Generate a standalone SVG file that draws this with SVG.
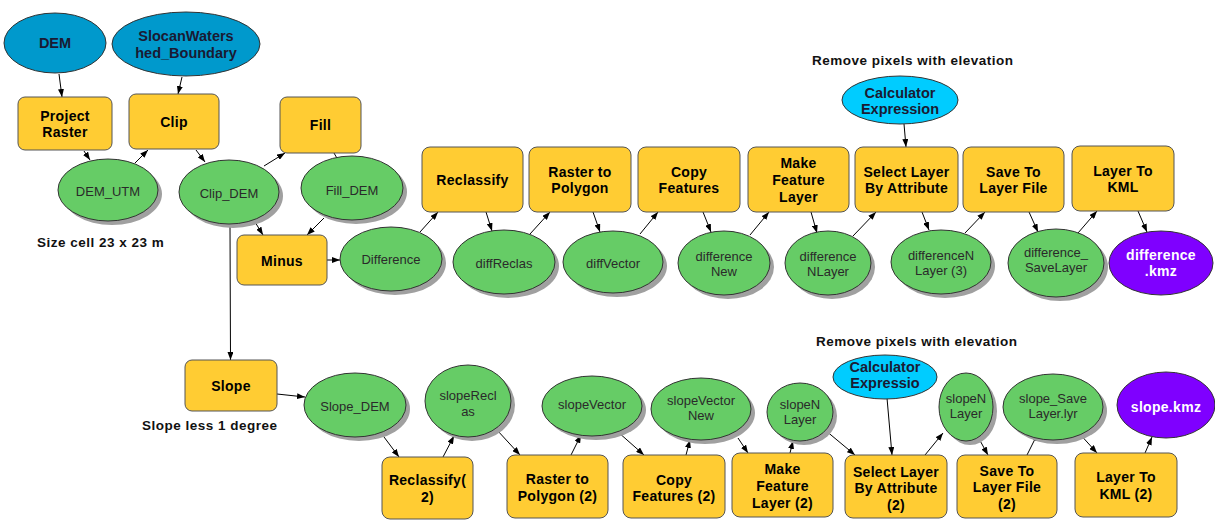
<svg xmlns="http://www.w3.org/2000/svg" width="1215" height="520" viewBox="0 0 1215 520">
<defs>
<marker id="ah" viewBox="0 0 8 6" refX="8" refY="3" markerWidth="8" markerHeight="6" markerUnits="userSpaceOnUse" orient="auto">
<path d="M0,0 L8,3 L0,6 z" fill="#000"/>
</marker>
<style>
.tool{fill:#ffcc33;stroke:#555;stroke-width:1}
.data{fill:#66cc66;stroke:#333;stroke-width:1}
.sh{fill:#a0a0a0}
.inp{fill:#0099cc;stroke:#333;stroke-width:1}
.calc{fill:#00ccff;stroke:#333;stroke-width:1}
.out{fill:#7f00ff;stroke:#333;stroke-width:1}
text{font-family:"Liberation Sans",Arial,sans-serif;text-anchor:middle;dominant-baseline:central}
.tt{font-size:14px;font-weight:bold;fill:#000;letter-spacing:0.3px}
.dt{font-size:13px;fill:#2a2a2a}
.it{font-size:14.5px;font-weight:bold;fill:#1a1a33}
.ot{font-size:14px;font-weight:bold;fill:#fff;letter-spacing:0.3px}
.note{font-size:13.5px;font-weight:bold;fill:#111;text-anchor:start;letter-spacing:0.5px}
.con line{stroke:#000;stroke-width:1;marker-end:url(#ah)}
</style>
</defs>
<rect width="1215" height="520" fill="#fff"/>

<g id="connectors" class="con">
<line x1="59" y1="74" x2="62" y2="97"/>
<line x1="182" y1="77" x2="178" y2="94"/>
<line x1="84" y1="151" x2="90" y2="160"/>
<line x1="135" y1="163" x2="148" y2="150"/>
<line x1="196" y1="150" x2="205" y2="162"/>
<line x1="264" y1="166" x2="285" y2="153"/>
<line x1="334" y1="153" x2="338" y2="160" style="marker-end:none"/>
<line x1="255" y1="222" x2="263" y2="235"/>
<line x1="324" y1="218" x2="307" y2="235"/>
<line x1="327" y1="260" x2="340" y2="260"/>
<line x1="230" y1="225" x2="230.5" y2="360"/>
<line x1="420" y1="232" x2="438" y2="212"/>
<line x1="486" y1="212" x2="492" y2="231"/>
<line x1="530" y1="234" x2="550" y2="212"/>
<line x1="593" y1="212" x2="600" y2="232"/>
<line x1="640" y1="234" x2="658" y2="212"/>
<line x1="703" y1="212" x2="711" y2="232"/>
<line x1="750" y1="235" x2="769" y2="212"/>
<line x1="811" y1="212" x2="817" y2="233"/>
<line x1="853" y1="236" x2="876" y2="212"/>
<line x1="904" y1="124" x2="906" y2="147"/>
<line x1="922" y1="212" x2="929" y2="230"/>
<line x1="965" y1="233" x2="985" y2="212"/>
<line x1="1029" y1="212" x2="1038" y2="232"/>
<line x1="1078" y1="233" x2="1097" y2="211"/>
<line x1="1138" y1="211" x2="1147" y2="232"/>
<line x1="277" y1="394" x2="305" y2="397"/>
<line x1="381" y1="433" x2="399" y2="457"/>
<line x1="443" y1="457" x2="454" y2="436"/>
<line x1="497" y1="430" x2="520" y2="455"/>
<line x1="571" y1="455" x2="581" y2="435"/>
<line x1="618" y1="432" x2="644" y2="455"/>
<line x1="686" y1="455" x2="690" y2="440"/>
<line x1="738" y1="438" x2="748" y2="453"/>
<line x1="790" y1="453" x2="793" y2="441"/>
<line x1="825" y1="430" x2="855" y2="455"/>
<line x1="887" y1="398" x2="892" y2="455"/>
<line x1="925" y1="455" x2="943" y2="433"/>
<line x1="978" y1="437" x2="988" y2="455"/>
<line x1="1027" y1="455" x2="1038" y2="433"/>
<line x1="1078" y1="432" x2="1097" y2="453"/>
<line x1="1145" y1="453" x2="1152" y2="437"/>
</g>

<g id="DEM"><ellipse class="inp" cx="55" cy="43" rx="51" ry="30"/><text class="it" x="55" y="43">DEM</text></g>
<g id="SlocanWatershed_Boundary"><ellipse class="inp" cx="186" cy="44" rx="74" ry="32"/><text class="it" x="186" y="36">SlocanWaters</text><text class="it" x="186" y="53">hed_Boundary</text></g>

<g id="ProjectRaster"><rect class="tool" x="18" y="97" width="94" height="53" rx="7"/><text class="tt" x="65" y="116">Project</text><text class="tt" x="65" y="132">Raster</text></g>
<g id="Clip"><rect class="tool" x="129" y="94" width="90" height="55" rx="7"/><text class="tt" x="174" y="122">Clip</text></g>
<g id="Fill"><rect class="tool" x="280" y="97" width="81" height="56" rx="7"/><text class="tt" x="320.5" y="125">Fill</text></g>

<g id="DEM_UTM"><ellipse class="sh" cx="112" cy="194" rx="50" ry="31"/><ellipse class="data" cx="108" cy="190" rx="50" ry="31"/><text class="dt" x="108" y="191">DEM_UTM</text></g>
<g id="Clip_DEM"><ellipse class="sh" cx="233" cy="196" rx="50" ry="32"/><ellipse class="data" cx="229" cy="192" rx="50" ry="32"/><text class="dt" x="229" y="193">Clip_DEM</text></g>
<g id="Fill_DEM"><ellipse class="sh" cx="356" cy="192" rx="51" ry="32"/><ellipse class="data" cx="352" cy="188" rx="51" ry="32"/><text class="dt" x="352" y="190">Fill_DEM</text></g>
<text class="note" x="37" y="242">Size cell 23 x 23 m</text>

<g id="Minus"><rect class="tool" x="237" y="235" width="90" height="50" rx="7"/><text class="tt" x="282" y="261">Minus</text></g>
<g id="Difference"><ellipse class="sh" cx="395" cy="263" rx="51" ry="32"/><ellipse class="data" cx="391" cy="259" rx="51" ry="32"/><text class="dt" x="391" y="259">Difference</text></g>

<g id="Reclassify"><rect class="tool" x="422" y="147" width="101" height="65" rx="8"/><text class="tt" x="472.5" y="180">Reclassify</text></g>
<g id="RasterToPolygon"><rect class="tool" x="529" y="147" width="102" height="65" rx="8"/><text class="tt" x="580" y="172">Raster to</text><text class="tt" x="580" y="188">Polygon</text></g>
<g id="CopyFeatures"><rect class="tool" x="638" y="147" width="102" height="65" rx="8"/><text class="tt" x="689" y="172">Copy</text><text class="tt" x="689" y="188">Features</text></g>
<g id="MakeFeatureLayer"><rect class="tool" x="748" y="147" width="101" height="65" rx="8"/><text class="tt" x="798.5" y="163">Make</text><text class="tt" x="798.5" y="180">Feature</text><text class="tt" x="798.5" y="197">Layer</text></g>
<g id="SelectLayerByAttribute"><rect class="tool" x="855" y="147" width="103" height="65" rx="8"/><text class="tt" x="906.5" y="172">Select Layer</text><text class="tt" x="906.5" y="188">By Attribute</text></g>
<g id="SaveToLayerFile"><rect class="tool" x="963" y="147" width="101" height="65" rx="8"/><text class="tt" x="1013.5" y="172">Save To</text><text class="tt" x="1013.5" y="188">Layer File</text></g>
<g id="LayerToKML"><rect class="tool" x="1072" y="146" width="102" height="65" rx="8"/><text class="tt" x="1123" y="171">Layer To</text><text class="tt" x="1123" y="187">KML</text></g>

<g id="CalculatorExpression"><ellipse class="calc" cx="900" cy="100" rx="58" ry="24"/><text class="it" x="900" y="93">Calculator</text><text class="it" x="900" y="109">Expression</text></g>
<text class="note" x="812" y="60">Remove pixels with elevation</text>

<g id="diffReclas"><ellipse class="sh" cx="508" cy="266" rx="51" ry="32"/><ellipse class="data" cx="504" cy="262" rx="51" ry="32"/><text class="dt" x="504" y="263">diffReclas</text></g>
<g id="diffVector"><ellipse class="sh" cx="617" cy="266" rx="50" ry="31"/><ellipse class="data" cx="613" cy="262" rx="50" ry="31"/><text class="dt" x="613" y="263">diffVector</text></g>
<g id="differenceNew"><ellipse class="sh" cx="728" cy="267" rx="46" ry="32"/><ellipse class="data" cx="724" cy="263" rx="46" ry="32"/><text class="dt" x="724" y="256">difference</text><text class="dt" x="724" y="271">New</text></g>
<g id="differenceNLayer"><ellipse class="sh" cx="832" cy="267" rx="43" ry="32"/><ellipse class="data" cx="828" cy="263" rx="43" ry="32"/><text class="dt" x="828" y="256">difference</text><text class="dt" x="828" y="271">NLayer</text></g>
<g id="differenceNLayer3"><ellipse class="sh" cx="945" cy="266" rx="50" ry="32"/><ellipse class="data" cx="941" cy="262" rx="50" ry="32"/><text class="dt" x="941" y="255">differenceN</text><text class="dt" x="941" y="270">Layer (3)</text></g>
<g id="difference_SaveLayer"><ellipse class="sh" cx="1060" cy="267" rx="48" ry="34"/><ellipse class="data" cx="1056" cy="263" rx="48" ry="34"/><text class="dt" x="1056" y="252">difference_</text><text class="dt" x="1056" y="267">SaveLayer</text></g>
<g id="difference_kmz"><ellipse class="out" cx="1161" cy="263" rx="52" ry="32"/><text class="ot" x="1161" y="255">difference</text><text class="ot" x="1161" y="271">.kmz</text></g>

<g id="Slope"><rect class="tool" x="185" y="360" width="92" height="51" rx="7"/><text class="tt" x="231" y="386">Slope</text></g>
<text class="note" x="142" y="425">Slope less 1 degree</text>
<g id="Slope_DEM"><ellipse class="sh" cx="359" cy="409" rx="51" ry="32"/><ellipse class="data" cx="355" cy="405" rx="51" ry="32"/><text class="dt" x="355" y="406">Slope_DEM</text></g>
<g id="slopeReclas"><ellipse class="sh" cx="472" cy="405" rx="43" ry="36"/><ellipse class="data" cx="468" cy="401" rx="43" ry="36"/><text class="dt" x="468" y="395">slopeRecl</text><text class="dt" x="468" y="411">as</text></g>
<g id="Reclassify2"><rect class="tool" x="382" y="457" width="91" height="62" rx="8"/><text class="tt" x="427.5" y="480">Reclassify(</text><text class="tt" x="427.5" y="497">2)</text></g>
<g id="RasterToPolygon2"><rect class="tool" x="507" y="455" width="101" height="63" rx="8"/><text class="tt" x="557.5" y="479">Raster to</text><text class="tt" x="557.5" y="496">Polygon (2)</text></g>
<g id="slopeVector"><ellipse class="sh" cx="596" cy="410" rx="50" ry="30"/><ellipse class="data" cx="592" cy="406" rx="50" ry="30"/><text class="dt" x="592" y="404">slopeVector</text></g>
<g id="CopyFeatures2"><rect class="tool" x="623" y="455" width="102" height="63" rx="8"/><text class="tt" x="674" y="480">Copy</text><text class="tt" x="674" y="496">Features (2)</text></g>
<g id="slopeVectorNew"><ellipse class="sh" cx="705" cy="413" rx="50" ry="31"/><ellipse class="data" cx="701" cy="409" rx="50" ry="31"/><text class="dt" x="701" y="400">slopeVector</text><text class="dt" x="701" y="415">New</text></g>
<g id="MakeFeatureLayer2"><rect class="tool" x="732" y="453" width="101" height="64" rx="8"/><text class="tt" x="782.5" y="469">Make</text><text class="tt" x="782.5" y="486">Feature</text><text class="tt" x="782.5" y="503">Layer (2)</text></g>
<g id="slopeNLayer"><ellipse class="sh" cx="804" cy="416" rx="33" ry="29"/><ellipse class="data" cx="800" cy="412" rx="33" ry="29"/><text class="dt" x="800" y="404">slopeN</text><text class="dt" x="800" y="419">Layer</text></g>
<g id="CalculatorExpressio"><ellipse class="calc" cx="885" cy="377" rx="52" ry="22"/><text class="it" x="885" y="367">Calculator</text><text class="it" x="885" y="383">Expressio</text></g>
<text class="note" x="816" y="341">Remove pixels with elevation</text>
<g id="SelectLayerByAttribute2"><rect class="tool" x="845" y="455" width="102" height="63" rx="8"/><text class="tt" x="896" y="472">Select Layer</text><text class="tt" x="896" y="488">By Attribute</text><text class="tt" x="896" y="505">(2)</text></g>
<g id="slopeNLayer2"><ellipse class="sh" cx="970" cy="411" rx="27" ry="34"/><ellipse class="data" cx="966" cy="407" rx="27" ry="34"/><text class="dt" x="966" y="398">slopeN</text><text class="dt" x="966" y="413">Layer</text></g>
<g id="SaveToLayerFile2"><rect class="tool" x="957" y="455" width="100" height="63" rx="8"/><text class="tt" x="1007" y="471">Save To</text><text class="tt" x="1007" y="487">Layer File</text><text class="tt" x="1007" y="504">(2)</text></g>
<g id="slope_SaveLayer"><ellipse class="sh" cx="1057" cy="411" rx="50" ry="33"/><ellipse class="data" cx="1053" cy="407" rx="50" ry="33"/><text class="dt" x="1053" y="398">slope_Save</text><text class="dt" x="1053" y="413">Layer.lyr</text></g>
<g id="LayerToKML2"><rect class="tool" x="1075" y="453" width="102" height="64" rx="8"/><text class="tt" x="1126" y="477">Layer To</text><text class="tt" x="1126" y="494">KML (2)</text></g>
<g id="slope_kmz"><ellipse class="out" cx="1166" cy="405" rx="49" ry="33"/><text class="ot" x="1166" y="407">slope.kmz</text></g>
</svg>
